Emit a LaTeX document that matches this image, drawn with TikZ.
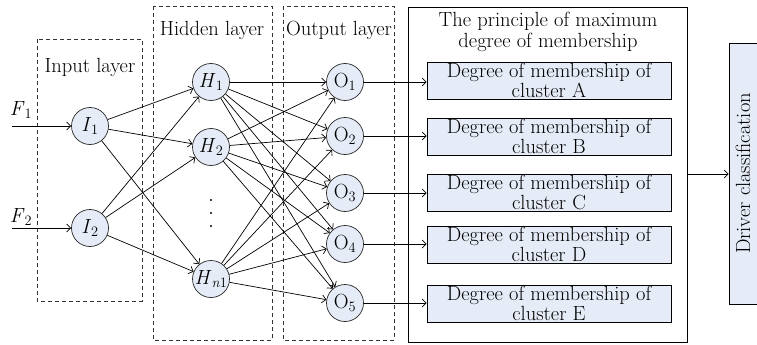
\documentclass[tikz,border=0pt]{standalone}
\usepackage{fontspec}
\usetikzlibrary{arrows.meta}
\definecolor{nodefill}{HTML}{E6ECF7}
\newcommand{\unit}[2]{#1\textsubscript{#2}}
\begin{document}
\begin{tikzpicture}[x=1pt,y=-1pt,line width=0.7pt,
    >={Straight Barb[length=4pt,width=8pt]},
    every node/.style={font=\fontsize{20.5}{17}\selectfont},
    neuron/.style={circle,draw=black!85,fill=nodefill,minimum size=37pt,inner sep=0pt},
    layerbox/.style={draw=black!80,dash pattern=on 4pt off 3pt},
    member/.style={draw,fill=nodefill,minimum width=244pt,minimum height=37pt,inner sep=0pt,align=center}]
    \useasboundingbox (0,0) rectangle (757,345);
    % dashed layer frames
    \draw[layerbox] (37,39) rectangle (142,301);
    \draw[layerbox] (153,6) rectangle (272,340);
    \draw[layerbox] (283,6) rectangle (394,340);
    \node (inlab) at (90,67) {Input layer};
    \node (hidlab) at (212,30) {Hidden layer};
    \node (outlab) at (339,30) {Output layer};
    % neurons
    \node[neuron] (I1) at (90,126) {\unit{\textit{I}}{1}};
    \node[neuron] (I2) at (90,228) {\unit{\textit{I}}{2}};
    \node[neuron] (H1) at (211,82) {\unit{\textit{H}}{1}};
    \node[neuron] (H2) at (211,147) {\unit{\textit{H}}{2}};
    \node[neuron] (H3) at (211,279) {\unit{\textit{H}}{\textit{n}1}};
    \foreach \y in {200,213,226} \fill (211,\y) circle (1.1pt);
    \foreach \i/\y in {1/82,2/136,3/193,4/244,5/303}
        \node[neuron] (O\i) at (345,\y) {\unit{O}{\i}};
    % inputs
    \coordinate (F1) at (12,126);
    \coordinate (F2) at (12,228);
    \node (f1lab) at (21,110) {\unit{\textit{F}}{1}};
    \node (f2lab) at (21,217) {\unit{\textit{F}}{2}};
    \draw[->] (F1) -- (I1);
    \draw[->] (F2) -- (I2);
    \foreach \a in {1,2} \foreach \b in {1,2,3}
        \draw[->] (I\a) -- (H\b);
    \foreach \a in {1,2,3} \foreach \b in {1,...,5}
        \draw[->] (H\a) -- (O\b);
    % membership
    \node[draw,minimum width=279pt,minimum height=335pt,inner sep=0pt] (principle) at (547.5,174.5) {};
    \node[align=center,font=\fontsize{20.5}{21}\selectfont] (title) at (548,32) {The principle of maximum\\degree of membership};
    \foreach \c/\y in {A/80.5,B/136.5,C/192.5,D/244.5,E/303.5}
        \node[member] (M\c) at (549,\y) {Degree of membership of\\cluster \c};
    \foreach \i/\c in {1/A,2/B,3/C,4/D,5/E}
        \draw[->] (O\i.east) -- (O\i.east -| M\c.west);
    \node[draw,fill=nodefill,minimum width=28pt,minimum height=261pt,inner sep=0pt] (driver) at (743,173.5) {};
    \node[rotate=90] (drvlab) at (743,173.5) {Driver classification};
    \draw[->] (principle.east |- 0,174) -- (driver.west |- 0,174);
\end{tikzpicture}
\end{document}
